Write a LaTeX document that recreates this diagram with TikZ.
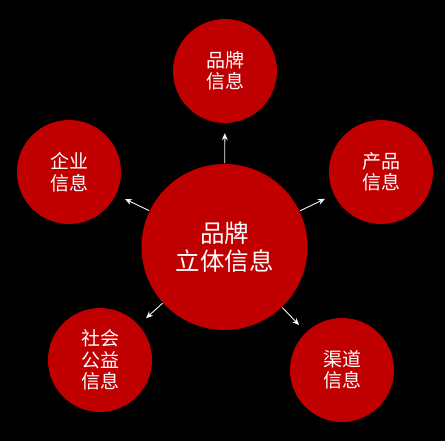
\documentclass[tikz,border=0pt]{standalone}
\usepackage{fontspec}
\setmainfont{Noto Sans CJK SC}
\usetikzlibrary{arrows.meta}

\definecolor{darkred}{RGB}{192,0,0}
\tikzset{
  bubble/.style={circle, fill=darkred, text=white, align=center,
                 inner sep=0pt, minimum size=104pt,
                 font=\fontsize{19}{21.5}\selectfont},
  hub/.style={bubble, minimum size=166pt,
              font=\fontsize{24.5}{28.5}\selectfont},
  link/.style={->, line width=0.9pt, white!92!gray,
               shorten <=0.5pt, shorten >=10pt}
}

\begin{document}
\begin{tikzpicture}[>={Stealth[length=7pt,width=6pt]}, x=1pt, y=-1pt]
  % Background
  \fill[black] (0,0) rectangle (445,441);
  \useasboundingbox (0,0) rectangle (445,441);

  % Center circle
  \node[hub] (core) at (224.5,247) {品牌\\立体信息};

  % Outer circles
  \foreach \pos/\name/\txt in {(225,71)/brand/{品牌\\信息},
                               (69,172)/corp/{企业\\信息},
                               (381,172)/prod/{产品\\信息},
                               (100,360)/social/{社会\\公益\\信息},
                               (342,370)/channel/{渠道\\信息}} {
    \node[bubble] (\name) at \pos {\txt};
  }

  % Arrows out of the center
  \foreach \name in {brand, corp, prod, social, channel} {
    \draw[link] (core) -- (\name);
  }
\end{tikzpicture}
\end{document}
